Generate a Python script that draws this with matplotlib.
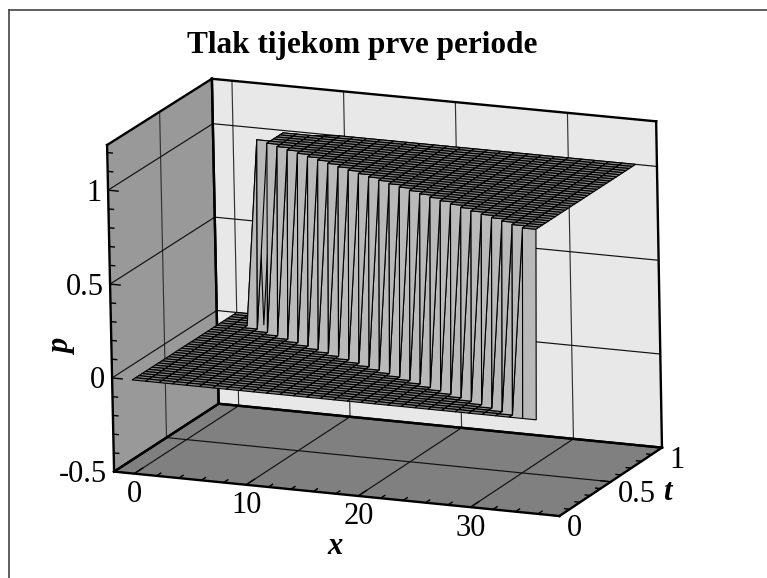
import numpy as np
import matplotlib
matplotlib.use('Agg')
import matplotlib.pyplot as plt
from matplotlib.lines import Line2D
from mpl_toolkits.mplot3d import proj3d
from mpl_toolkits.mplot3d.art3d import Poly3DCollection

plt.rcParams['font.family'] = ['Liberation Serif', 'DejaVu Serif']

W, H = 767, 578

# axis ranges and ticks
x_range = (-1.8, 37.9)
t_range = (0, 1)
p_range = (-0.5, 1.24)
x_major = [0, 10, 20, 30]
x_minor = [2, 4, 6, 8, 12, 14, 16, 18, 22, 24, 26, 28, 32, 34, 36]
t_major = [0, 0.5, 1]
t_minor = [0.1, 0.2, 0.3, 0.4, 0.6, 0.7, 0.8, 0.9]
p_major = [-0.5, 0, 0.5, 1]
p_minor = [-0.4, -0.3, -0.2, -0.1, 0.1, 0.2, 0.3, 0.4, 0.6, 0.7, 0.8, 0.9, 1.1, 1.2]
x_labels = ['0', '10', '20', '30']
t_labels = ['0', '0.5', '1']
p_labels = ['-0.5', '0', '0.5', '1']

# mesh nodes
x_nodes = [0, 1.2, 2.4, 3.6, 4.8, 6, 7.2, 8.4, 9.6, 10.8, 12, 13.2, 14.4, 15.6, 16.8, 18,
           19.2, 20.4, 21.6, 22.8, 24, 25.2, 26.4, 27.6, 28.8, 30, 31.2, 32.4, 33.6, 34.8, 36]
t_nodes = [0, 0.0313, 0.0625, 0.0938, 0.125, 0.1563, 0.1875, 0.2188, 0.25, 0.2813, 0.3125,
           0.3438, 0.375, 0.4063, 0.4375, 0.4688, 0.5, 0.5313, 0.5625, 0.5938, 0.625, 0.6563,
           0.6875, 0.7188, 0.75, 0.7813, 0.8125, 0.8438, 0.875, 0.9063, 0.9375, 0.9688, 1]

# pressure at each node, one string per time level
p_rows = [
    "0000000000000000000000000000000",
    "0000000000000000000000000000011",
    "0000000000000000000000000000111",
    "0000000000000000000000000001111",
    "0000000000000000000000000011111",
    "0000000000000000000000000111111",
    "0000000000000000000000001111111",
    "0000000000000000000000011111111",
    "0000000000000000000000111111111",
    "0000000000000000000001111111111",
    "0000000000000000000011111111111",
    "0000000000000000000111111111111",
    "0000000000000000001111111111111",
    "0000000000000000011111111111111",
    "0000000000000000111111111111111",
    "0000000000000001111111111111111",
    "0000000000000011111111111111111",
    "0000000000000111111111111111111",
    "0000000000001111111111111111111",
    "0000000000011111111111111111111",
    "0000000000111111111111111111111",
    "0000000001111111111111111111111",
    "0000000011111111111111111111111",
    "0000000111111111111111111111111",
    "0000001111111111111111111111111",
    "0000011111111111111111111111111",
    "0000111111111111111111111111111",
    "0001111111111111111111111111111",
    "0000111111111111111111111111111",
    "0000111111111111111111111111111",
    "0000111111111111111111111111111",
    "0000111111111111111111111111111",
    "0000111111111111111111111111111",
]
# last time level just behind the jump sits a little under 1
p_last_dip = [0.965, 0.975, 0.985, 0.995]

p_grid = np.array([[float(c) for c in row] for row in p_rows])
p_grid[-1, 4:8] = p_last_dip
X, T = np.meshgrid(x_nodes, t_nodes)

fig = plt.figure(figsize=(W / 100, H / 100), dpi=100)
S = 628.06
ax = fig.add_axes([62.46 / W, -41.09 / H, S / W, S / H], projection='3d')
ax.set_axis_off()
ax.computed_zorder = False
ax.view_init(15.69, -66.49, 1.125)
ax.set_proj_type('persp', focal_length=12.54)
ax.set_box_aspect((1, 0.5438, 0.7007))

x0, x1 = x_range
t0, t1 = t_range
p0, p1 = p_range

# walls and floor
left = [(x0, t0, p0), (x0, t1, p0), (x0, t1, p1), (x0, t0, p1)]
back = [(x0, t1, p0), (x1, t1, p0), (x1, t1, p1), (x0, t1, p1)]
floor = [(x0, t0, p0), (x1, t0, p0), (x1, t1, p0), (x0, t1, p0)]
for poly, col in [(left, '#999999'), (back, '#e8e8e8'), (floor, '#808080')]:
    ax.add_collection3d(Poly3DCollection([poly], facecolors=col, edgecolors='none', zorder=1))


def seg(a, b, lw=0.85, z=2, col='#111111'):
    ax.plot([a[0], b[0]], [a[1], b[1]], [a[2], b[2]], color=col, lw=lw, zorder=z,
            solid_capstyle='projecting')


# grid lines
for x in x_major:
    seg((x, t0, p0), (x, t1, p0))
    seg((x, t1, p0), (x, t1, p1), col='#333333')
for t in [0.5]:
    seg((x0, t, p0), (x1, t, p0))
    seg((x0, t, p0), (x0, t, p1), col='#333333')
for p in [0, 0.5, 1]:
    seg((x0, t0, p), (x0, t1, p))
    seg((x0, t1, p), (x1, t1, p))

# frame of the box
for poly in (left, back, floor):
    for a, b in zip(poly, poly[1:] + poly[:1]):
        seg(a, b, lw=1.7, z=2.5, col='black')

# tick marks
for x, ln in [(v, 0.08) for v in x_major] + [(v, 0.04) for v in x_minor]:
    seg((x, t0, p0), (x, t0 + ln, p0), lw=1.0, z=2.6, col='black')
for t, ln in [(v, 0.9) for v in t_major] + [(v, 0.45) for v in t_minor]:
    seg((x1, t, p0), (x1 - ln, t, p0), lw=1.0, z=2.6, col='black')
for p, ln in [(v, 0.9) for v in p_major] + [(v, 0.45) for v in p_minor]:
    seg((x0, t0, p), (x0 + ln, t0, p), lw=1.0, z=2.6, col='black')

# surface: flat parts dark, the jump lighter
stack = np.stack([p_grid[:-1, :-1], p_grid[:-1, 1:], p_grid[1:, :-1], p_grid[1:, 1:]])
jump = (stack.max(axis=0) - stack.min(axis=0)) > 0.5
fc = np.empty(p_grid.shape + (4,))
fc[...] = matplotlib.colors.to_rgba('#808080')
fc[:-1, :-1][jump] = matplotlib.colors.to_rgba('#b9b9b9')
ax.plot_surface(X, T, p_grid, facecolors=fc, rstride=1, cstride=1, shade=False,
                edgecolor='black', linewidth=0.8, zorder=3, antialiased=True)

ax.set_xlim(x0, x1, view_margin=0)
ax.set_ylim(t0, t1, view_margin=0)
ax.set_zlim(p0, p1, view_margin=0)


def label3d(x, t, p, s, ha):
    # plain 2D text placed at the projected point
    px, py, _ = proj3d.proj_transform(x, t, p, ax.get_proj())
    ax.text2D(px, py, s, transform=ax.transData, fontsize=22, ha=ha, va='center')


# tick labels
for x, s in zip(x_major, x_labels):
    label3d(x, t0, p0 - 0.112, s, 'center')
for t, s in zip(t_major, t_labels):
    label3d(x1 + 0.6, t, p0 - 0.065, s, 'left')
for p, s in zip(p_major, p_labels):
    label3d(x0 - 0.6, t0, p - 0.02, s, 'right')

# axis titles and heading
lab = dict(fontsize=22, fontweight='bold', fontstyle='italic', ha='center', va='center')
fig.text(335 / W, 1 - 547 / H, 'x', **lab)
fig.text(667 / W, 1 - 493 / H, 't', **lab)
fig.text(63 / W, 1 - 347 / H, 'p', rotation=90, **lab)
fig.text(362 / W, 1 - 45 / H, 'Tlak tijekom prve periode', fontsize=22.5, fontweight='bold',
         ha='center', va='center')

# outer frame
fig.add_artist(Line2D([9 / W, 9 / W], [0, 1 - 10 / H], color='#444444', lw=1.2))
fig.add_artist(Line2D([9 / W, 1], [1 - 10 / H, 1 - 10 / H], color='#444444', lw=1.2))

fig.savefig('out.png', dpi=100)
